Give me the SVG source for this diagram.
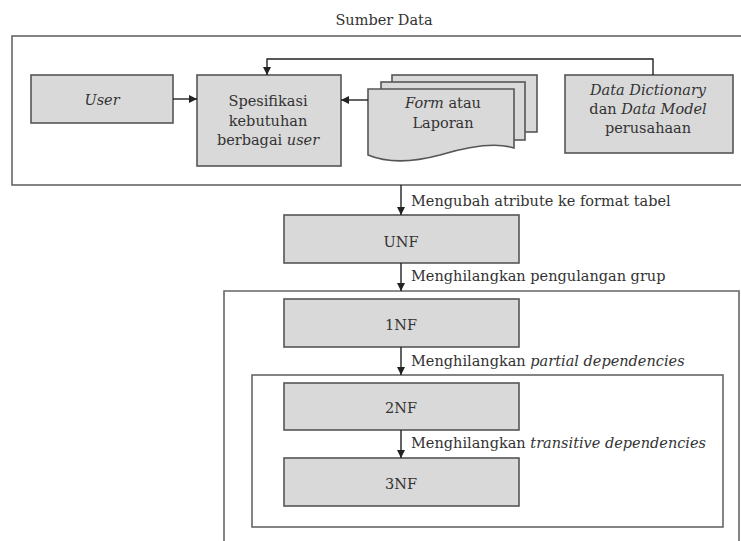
<svg xmlns="http://www.w3.org/2000/svg" width="741" height="541" viewBox="0 0 741 541">
<defs>
<marker id="ah" markerWidth="8" markerHeight="8" refX="8" refY="4" orient="auto" markerUnits="userSpaceOnUse">
<path d="M0,0 L8,4 L0,8 Z" fill="#222"/>
</marker>
<style>
text{font-family:'DejaVu Serif','Liberation Serif',serif;font-size:14.5px;fill:#333}
.c{text-anchor:middle}
.i{font-style:italic}
.box{fill:#d9d9d9;stroke:#555;stroke-width:1.6}
.frame{fill:none;stroke:#666;stroke-width:1.6}
.ln{fill:none;stroke:#222;stroke-width:1.4}
</style>
</defs>
<rect width="741" height="541" fill="#fff"/>
<text class="c" x="384" y="25">Sumber Data</text>
<g id="sumber-data">
<rect class="frame" x="12" y="36" width="740" height="149"/>
</g>
<g id="normalisasi-frame">
<path class="frame" d="M224,545 V291 H739 V545"/>
</g>
<g id="inner-frame">
<rect class="frame" x="252" y="375" width="471" height="152"/>
</g>
<g id="user">
<rect class="box" x="31" y="75" width="142" height="48"/>
<text class="c i" x="102" y="105">User</text>
</g>
<g id="spesifikasi">
<rect class="box" x="197" y="75" width="144" height="91"/>
<text class="c" x="268" y="106">Spesifikasi</text>
<text class="c" x="268" y="126">kebutuhan</text>
<text class="c" x="268" y="145">berbagai <tspan class="i">user</tspan></text>
</g>
<g id="form-laporan">
<rect class="box" x="392" y="75" width="145" height="57"/>
<rect class="box" x="381" y="82" width="144" height="58"/>
<path class="box" d="M368,89 H514 V148 C495,142 470,146 440,155 C410,163 385,162 368,155 Z"/>
<text class="c" x="443" y="108"><tspan class="i">Form</tspan> atau</text>
<text class="c" x="443" y="128">Laporan</text>
</g>
<g id="data-dictionary">
<rect class="box" x="565" y="75" width="168" height="78"/>
<text class="c i" x="648" y="95">Data Dictionary</text>
<text class="c" x="648" y="114">dan <tspan class="i">Data Model</tspan></text>
<text class="c" x="648" y="133">perusahaan</text>
</g>
<g id="unf">
<rect class="box" x="284" y="215" width="235" height="48"/>
<text class="c" x="401" y="247">UNF</text>
</g>
<g id="nf1">
<rect class="box" x="284" y="299" width="235" height="48"/>
<text class="c" x="401" y="330">1NF</text>
</g>
<g id="nf2">
<rect class="box" x="284" y="383" width="235" height="47"/>
<text class="c" x="401" y="413">2NF</text>
</g>
<g id="nf3">
<rect class="box" x="284" y="458" width="235" height="48"/>
<text class="c" x="401" y="489">3NF</text>
</g>
<g id="connectors">
<line class="ln" x1="173" y1="99" x2="197" y2="99" marker-end="url(#ah)"/>
<line class="ln" x1="368" y1="100" x2="341" y2="100" marker-end="url(#ah)"/>
<path class="ln" d="M653,75 V59 H267 V75" marker-end="url(#ah)"/>
<line class="ln" x1="401" y1="185" x2="401" y2="215" marker-end="url(#ah)"/>
<line class="ln" x1="401" y1="263" x2="401" y2="291" marker-end="url(#ah)"/>
<line class="ln" x1="401" y1="347" x2="401" y2="375" marker-end="url(#ah)"/>
<line class="ln" x1="401" y1="430" x2="401" y2="458" marker-end="url(#ah)"/>
<text x="411" y="206">Mengubah atribute ke format tabel</text>
<text x="411" y="281">Menghilangkan pengulangan grup</text>
<text x="411" y="366">Menghilangkan <tspan class="i">partial dependencies</tspan></text>
<text x="411" y="448">Menghilangkan <tspan class="i">transitive dependencies</tspan></text>
</g>
</svg>
